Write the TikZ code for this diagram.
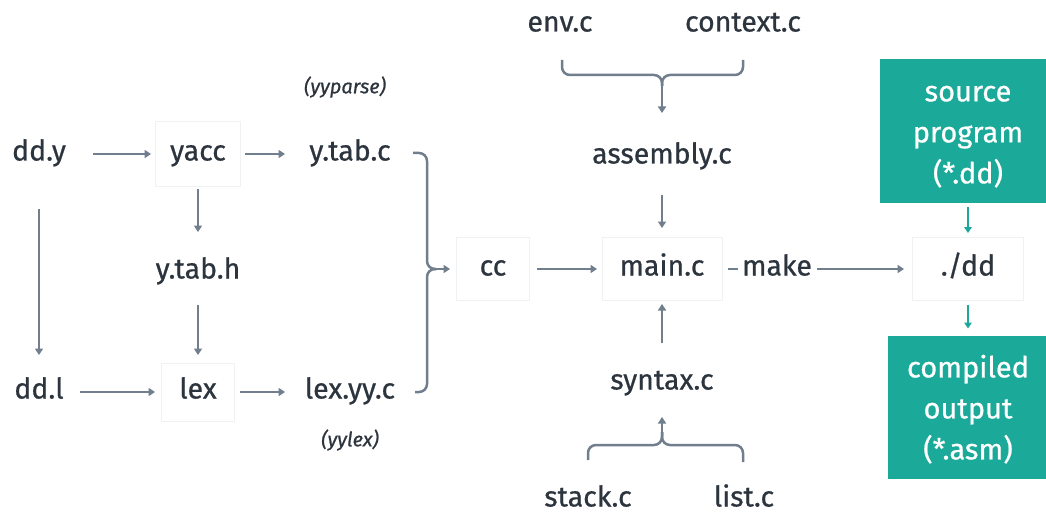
\documentclass[tikz,border=0pt]{standalone}
\usepackage{fontspec}
\setmainfont{Fira Sans}[FakeBold=0.7]
\usetikzlibrary{arrows.meta}
\definecolor{linec}{RGB}{112,126,141}
\definecolor{textc}{RGB}{44,52,62}
\definecolor{tealc}{RGB}{27,170,153}
\definecolor{faint}{RGB}{240,241,242}
\tikzset{
  txt/.style={font=\fontsize{28.5}{34}\selectfont, text=textc, inner sep=0pt, text height=20pt, text depth=7pt},
  note/.style={font=\fontsize{20}{24}\selectfont\itshape, text=textc, inner sep=0pt},
  fbox/.style={txt, draw=faint, line width=1pt},
  tbox/.style={fill=tealc, text=white, font=\fontsize{29}{41}\selectfont, align=center, inner sep=0pt},
  arr/.style={draw=linec, line width=2.5pt, -{Triangle[length=6.5pt,width=8pt]}},
  ln/.style={draw=linec, line width=2.5pt},
  brc/.style={draw=linec, line width=2.5pt, rounded corners=8pt},
  tarr/.style={draw=tealc, line width=2.4pt, -{Triangle[length=6pt,width=7.5pt]}}
}
\begin{document}
\begin{tikzpicture}[x=1pt,y=-1pt]
\useasboundingbox (0,0) rectangle (1046,513);
% left part
\node[txt] (ddy) at (39,154) {dd.y};
\node[fbox, minimum width=85pt, minimum height=65pt] (yacc) at (198,154) {yacc};
\node[txt] (ytabc) at (350,154) {y.tab.c};
\node[note] (yyparse) at (345,87) {(yyparse)};
\node[txt] (ytabh) at (198,272) {y.tab.h};
\node[txt] (ddl) at (39,392) {dd.l};
\node[fbox, minimum width=73pt, minimum height=58pt] (lex) at (198,392) {lex};
\node[txt] (lexyyc) at (350,392) {lex.yy.c};
\node[note] (yylex) at (350,440) {(yylex)};
% middle
\node[fbox, minimum width=73pt, minimum height=63pt] (cc) at (493,269) {cc};
\node[fbox, minimum width=120pt, minimum height=63pt] (mainc) at (662,269) {main.c};
\node[txt] (envc) at (560,25) {env.c};
\node[txt] (contextc) at (743,25) {context.c};
\node[txt] (assembly) at (662,157) {assembly.c};
\node[txt] (syntax) at (662,383) {syntax.c};
\node[txt] (stackc) at (588,500) {stack.c};
\node[txt] (listc) at (744,500) {list.c};
\node[txt] (make) at (777,269) {make};
% right
\node[fbox, minimum width=111pt, minimum height=63pt] (dd) at (968,269) {./dd};
\node[tbox, minimum width=176pt, minimum height=144pt] (src) at (968,131) {\rule{0pt}{27pt}source\\program\\(*.dd)};
\node[tbox, minimum width=160pt, minimum height=143pt] (cmp) at (968,407.5) {\rule{0pt}{26pt}compiled\\output\\(*.asm)};
% brace coordinates
\coordinate (brT) at (413,153);
\coordinate (brB) at (415,392);
\coordinate (brM) at (436,269);
\coordinate (envL) at (562,60);
\coordinate (envR) at (743,60);
\coordinate (envM) at (662,86);
\coordinate (stkL) at (588,460);
\coordinate (stkR) at (743,462);
\coordinate (stkM) at (662,432);
% arrows left
\draw[arr, shorten <=54pt, shorten >=47pt] (ddy.center) -- (yacc.center);
\draw[arr, shorten <=47pt, shorten >=65pt] (yacc.center) -- (ytabc.center);
\draw[arr, shorten <=35pt, shorten >=40pt] (yacc.center) -- (ytabh.center);
\draw[arr, shorten <=33pt, shorten >=37pt] (ytabh.center) -- (lex.center);
\draw[arr, shorten <=55pt, shorten >=37pt] (ddy.center) -- (ddl.center);
\draw[arr, shorten <=41pt, shorten >=43pt] (ddl.center) -- (lex.center);
\draw[arr, shorten <=42pt, shorten >=65pt] (lex.center) -- (lexyyc.center);
% right brace
\draw[brc] (brT) -- (427,153) -- (427,269) -- (brM);
\draw[brc] (brB) -- (427,392) -- (427,269) -- (brM);
\draw[arr, shorten >=43pt] (brM) -- (cc.center);
% middle arrows
\draw[arr, shorten <=44pt, shorten >=65pt] (cc.center) -- (mainc.center);
\draw[brc] (envL) -- (562,75) -- (662,75) -- (envM);
\draw[brc] (envR) -- (743,75) -- (662,75) -- (envM);
\draw[arr, shorten >=44pt] (envM) -- (assembly.center);
\draw[arr, shorten <=38pt, shorten >=41pt] (assembly.center) -- (mainc.center);
\draw[brc] (stkL) -- (588,445) -- (662,445) -- (stkM);
\draw[brc] (stkR) -- (743,445) -- (662,445) -- (stkM);
\draw[arr, shorten >=34pt] (stkM) -- (syntax.center);
\draw[arr, shorten <=40pt, shorten >=35pt] (syntax.center) -- (mainc.center);
\draw[ln, shorten <=66pt, shorten >=39pt] (mainc.center) -- (make.center);
\draw[arr, shorten <=40pt, shorten >=64pt] (make.center) -- (dd.center);
% teal arrows
\draw[tarr, shorten <=76pt, shorten >=36pt] (src.center) -- (dd.center);
\draw[tarr, shorten <=36pt, shorten >=79pt] (dd.center) -- (cmp.center);
\end{tikzpicture}
\end{document}
